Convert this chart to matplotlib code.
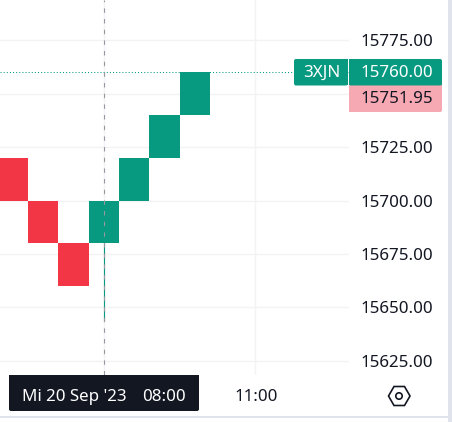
# Renko chart, price pane + time strip
import matplotlib
matplotlib.use("Agg")
import matplotlib.pyplot as plt
from matplotlib.patches import FancyBboxPatch, Polygon, Circle

plt.rcParams['font.family'] = ['Noto Sans', 'DejaVu Sans']

# --------------------------
# Data
# --------------------------
brick_pos = [0, 1, 2, 3, 4, 5, 6]
brick_low = [15700, 15680, 15660, 15680, 15700, 15720, 15740]
brick_high = [15720, 15700, 15680, 15700, 15720, 15740, 15760]
brick_up = [False, False, False, True, True, True, True]
wick_pos = 3
wick_low = 15644
y_ticks = [15625, 15650, 15675, 15700, 15725, 15750, 15775]
y_labels = ["15625.00", "15650.00", "15675.00", "15700.00", "15725.00", "", "15775.00"]
time_ticks = [3, 8]
time_label = "11:00"
cross_date = "Mi 20 Sep '23"
cross_time = "08:00"
last_price = 15760
prev_close = 15751.95
symbol = "3XJN"

GREEN = "#089981"
RED = "#f23645"
PINK = "#f7a9b3"
DARK = "#131722"
GRID = "#f3f3f4"
FS = 12.2

W, H = 452, 422
fig = plt.figure(figsize=((W + 0.01) / 100, (H + 0.01) / 100), dpi=100, facecolor="white")

# pixel helper for the axes box
pane_r, pane_b = 349, 375
ax = fig.add_axes([0, 1 - pane_b / H, pane_r / W, pane_b / H])
px_per_bar = 30.3
x0 = 13.0  # pixel centre of first brick
ax.set_xlim(-x0 / px_per_bar, (pane_r - x0) / px_per_bar)
px_per_price = 53.4 / 25
ax.set_ylim(15775 - (pane_b - 40.4) / px_per_price, 15775 + 40.4 / px_per_price)

for s in ax.spines.values():
    s.set_visible(False)

ax.yaxis.tick_right()
ax.set_yticks(y_ticks)
ax.set_yticklabels(y_labels, fontsize=FS, color=DARK)
ax.tick_params(axis="y", length=0, pad=8.2)
ax.set_xticks(time_ticks)
ax.set_xticklabels([])
ax.tick_params(axis="x", length=0)
ax.grid(True, color=GRID, linewidth=1)
ax.set_axisbelow(True)

# bricks
for p, lo, hi, up in zip(brick_pos, brick_low, brick_high, brick_up):
    ax.bar(p, hi - lo, bottom=lo, width=1.0, color=GREEN if up else RED, linewidth=0, zorder=2)

# wick and crosshair
ax.plot([wick_pos, wick_pos], [wick_low, 15680], color=GREEN, linewidth=0.8, zorder=3)
ax.axvline(wick_pos, color="#9598a1", linewidth=0.8, linestyle=(0, (4, 5.6)), zorder=4)
# last price dotted line
ax.axhline(last_price, color=GREEN, linewidth=0.75, linestyle=(0, (1, 2)), zorder=2)

# --------------------------
# Overlay in pixel coords
# --------------------------
ov = fig.add_axes([0, 0, 1, 1], facecolor="none")
ov.set_xlim(0, W)
ov.set_ylim(H, 0)
ov.axis("off")

def box(x1, y1, x2, y2, color, r=2):
    ov.add_patch(FancyBboxPatch((x1 + r, y1 + r), x2 - x1 - 2 * r, y2 - y1 - 2 * r,
                                boxstyle=f"round,pad={r},rounding_size={r}",
                                facecolor=color, edgecolor="none"))

def rect(x1, y1, x2, y2, color):
    ov.add_patch(plt.Rectangle((x1, y1), x2 - x1, y2 - y1, facecolor=color, edgecolor="none"))

# price labels
box(294, 59, 348, 85.5, GREEN)
rect(340, 59, 348, 85.5, GREEN)
box(349, 85, 442, 112, PINK)
rect(349, 85, 442, 100, PINK)
rect(349, 106, 360, 112, PINK)
box(349, 59, 442, 85.5, GREEN)
rect(349, 59, 360, 85.5, GREEN)
rect(349, 75, 442, 85.5, GREEN)
ov.text(321.5, 72.5, symbol, color="white", fontsize=FS, ha="center", va="center")
ov.text(360.5, 72.5, f"{last_price:.2f}", color="white", fontsize=FS, ha="left", va="center")
ov.text(360.5, 98.5, f"{prev_close:.2f}", color=DARK, fontsize=FS, ha="left", va="center")

# time strip
box(9, 375, 199, 411, DARK)
rect(9, 375, 199, 395, DARK)
ov.text(22, 396.7, cross_date, color="white", fontsize=FS, ha="left", va="center")
ov.text(186, 396.7, cross_time, color="white", fontsize=FS, ha="right", va="center")
ov.text(256, 396.7, time_label, color=DARK, fontsize=FS, ha="center", va="center")

# settings icon
hex_pts = [(388.5, 396), (394, 386.5), (404.5, 386.5), (410, 396), (404.5, 405.5), (394, 405.5)]
ov.add_patch(Polygon(hex_pts, closed=True, facecolor="none", edgecolor=DARK, linewidth=1.2))
ov.add_patch(Circle((399, 396), 3.2, facecolor="none", edgecolor=DARK, linewidth=1.2))

# outer frame strips
rect(448, 0, 452, H, "#e0e3eb")
rect(0, 416.5, 448, 417.7, "#e0e3eb")

fig.savefig("out.png", dpi=100)
